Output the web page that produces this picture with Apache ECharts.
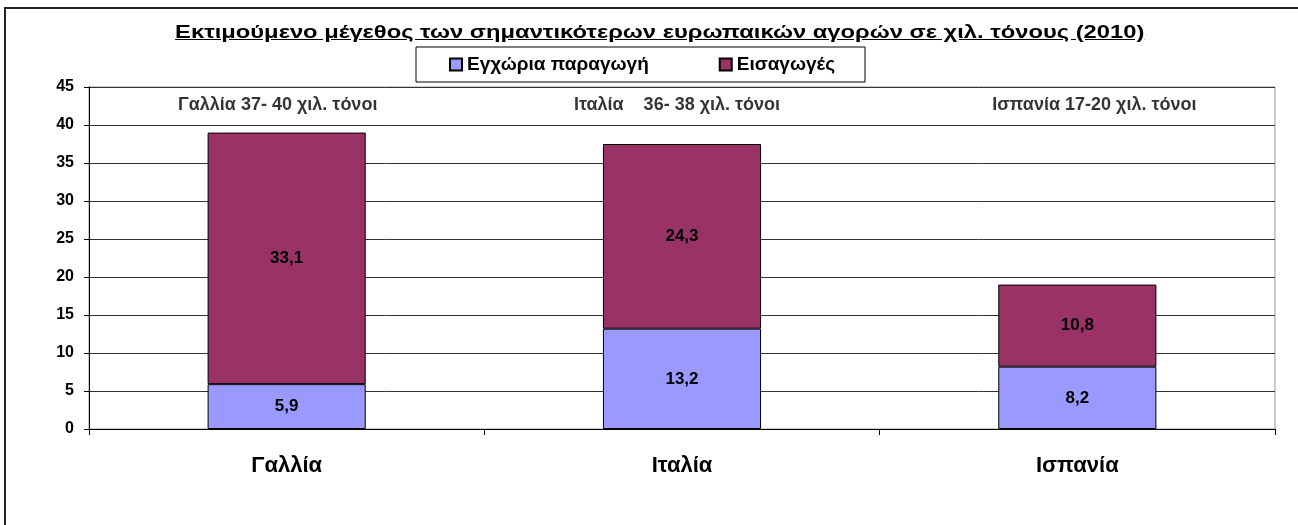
<!DOCTYPE html>
<html>
<head>
<meta charset="utf-8">
<script src="https://cdn.jsdelivr.net/npm/echarts@6/dist/echarts.min.js"></script>
<style>
    body { margin: 0; background: #fff; }
    #wrap { position: relative; width: 1298px; height: 525px; overflow: hidden; }
    #frame { position: absolute; left: 4px; top: 7px; width: 1400px; height: 600px;
             border-left: 2px solid #222; border-top: 2px solid #222; }
    #title { position: absolute; left: 0; top: 22px; width: 1320px; text-align: center; }
    #title span { display: inline-block; transform: scaleX(1.318); transform-origin: center;
             font: bold 18px "Liberation Sans", Arial, sans-serif; text-decoration: underline; color: #000; }
    #chart { position: absolute; left: 0; top: 0; width: 1298px; height: 525px; }
</style>
</head>
<body>
<div id="wrap">
    <div id="frame"></div>
    <div id="chart"></div>
    <div id="title"><span>Εκτιμούμενο μέγεθος των σημαντικότερων ευρωπαικών αγορών σε χιλ. τόνους (2010)</span></div>
</div>
<script>
    var countries = ['Γαλλία', 'Ιταλία', 'Ισπανία'];
    var domestic = [5.9, 13.2, 8.2];
    var imports = [33.1, 24.3, 10.8];
    var notes = ['Γαλλία 37- 40 χιλ. τόνοι', 'Ιταλία    36- 38 χιλ. τόνοι', 'Ισπανία 17-20 χιλ. τόνοι'];
    var noteLevel = 42.6;
    // small horizontal nudges of the notes, in px
    var noteShift = [-9, -5, 17];

    var myChart = echarts.init(document.getElementById('chart'));
    var font = '"Liberation Sans", Arial, sans-serif';

    function comma(p) {
        return String(p.value).replace('.', ',');
    }

    var option = {
        animation: false,
        textStyle: { fontFamily: font },
        legend: {
            left: 416,
            top: 47,
            data: ['Εγχώρια παραγωγή', 'Εισαγωγές'],
            icon: 'rect',
            itemWidth: 12,
            itemHeight: 12,
            itemGap: 70,
            padding: [8, 30, 8, 33],
            borderColor: '#000',
            borderWidth: 1,
            textStyle: { fontSize: 19, fontWeight: 'bold', color: '#000', fontFamily: font }
        },
        grid: { left: 89, right: 23, top: 87, bottom: 96, show: true, borderColor: '#999', borderWidth: 1 },
        xAxis: {
            type: 'category',
            data: countries,
            axisLine: { lineStyle: { color: '#000' } },
            axisTick: { show: true, length: 6, lineStyle: { color: '#000' } },
            axisLabel: { fontSize: 22, fontWeight: 'bold', color: '#000', margin: 26, fontFamily: font }
        },
        yAxis: {
            type: 'value',
            min: 0,
            max: 45,
            interval: 5,
            axisLine: { show: true, lineStyle: { color: '#000' } },
            axisTick: { show: true, length: 5, lineStyle: { color: '#000' } },
            axisLabel: { fontSize: 16, fontWeight: 'bold', color: '#000', margin: 15, fontFamily: font },
            splitLine: { lineStyle: { color: '#333' } }
        },
        series: [
            {
                name: 'Εγχώρια παραγωγή',
                type: 'bar',
                stack: 'total',
                barWidth: '40%',
                data: domestic,
                itemStyle: { color: '#9999FF', borderColor: '#000', borderWidth: 1 },
                label: { show: true, position: 'inside', fontSize: 17, fontWeight: 'bold', color: '#000', formatter: comma }
            },
            {
                name: 'Εισαγωγές',
                type: 'bar',
                stack: 'total',
                barWidth: '40%',
                data: imports,
                itemStyle: { color: '#993366', borderColor: '#000', borderWidth: 1 },
                label: { show: true, position: 'inside', fontSize: 17, fontWeight: 'bold', color: '#000', formatter: comma }
            },
            {
                type: 'scatter',
                symbolSize: 0,
                silent: true,
                data: countries.map(function (c, i) {
                    return {
                        value: [c, noteLevel],
                        label: { offset: [noteShift[i], 0] }
                    };
                }),
                label: {
                    show: true, position: 'inside', fontSize: 18, fontWeight: 'bold', color: '#000',
                    formatter: function (p) { return notes[p.dataIndex]; }
                }
            }
        ]
    };
    myChart.setOption(option);
</script>
</body>
</html>
